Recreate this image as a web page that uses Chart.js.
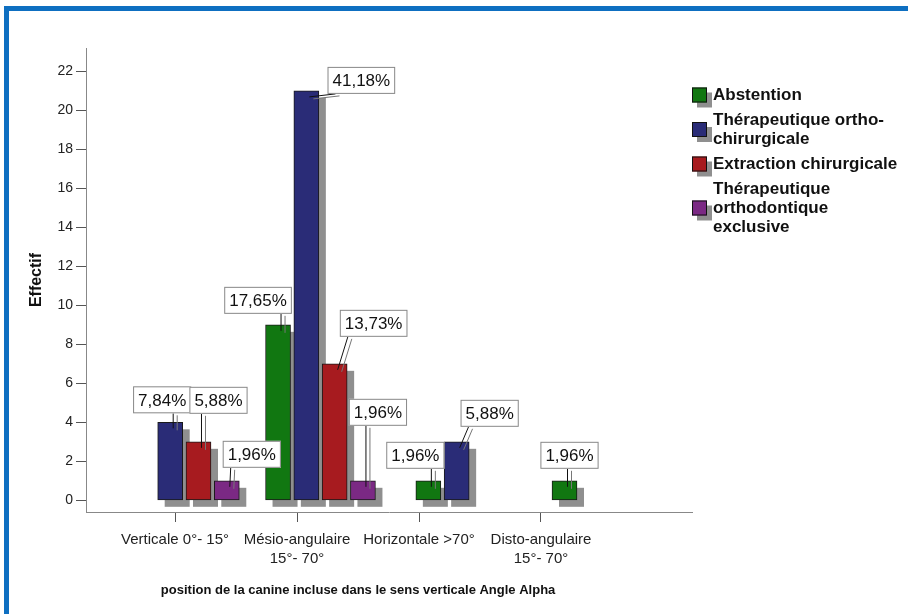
<!DOCTYPE html>
<html>
<head>
<meta charset="utf-8">
<script src="https://cdn.jsdelivr.net/npm/chart.js@4.4.1/dist/chart.umd.min.js"></script>
<style>
  html, body { margin: 0; padding: 0; background: #fff; }
  #wrap { position: relative; width: 908px; height: 614px; overflow: hidden; }
  #frame { position: absolute; left: 4px; top: 6px; width: 940px; height: 640px;
           border-left: 5px solid #0e6fc1; border-top: 5px solid #0e6fc1; pointer-events: none; }
  canvas { position: absolute; left: 0; top: 0; }
</style>
</head>
<body>
<div id="wrap">
  <canvas id="chart" width="908" height="614"></canvas>
  <div id="frame"></div>
</div>
<script>
// categories de l'axe X
var categories = ['Verticale 0°- 15°', ['Mésio-angulaire', '15°- 70°'], 'Horizontale >70°', ['Disto-angulaire', '15°- 70°']];
// noms des series (legende)
var seriesNames = ['Abstention', ['Thérapeutique ortho-', 'chirurgicale'], 'Extraction chirurgicale', ['Thérapeutique', 'orthodontique', 'exclusive']];
// effectifs
var abstention = [0, 9, 1, 1];
var orthoChirurgicale = [4, 21, 3, 0];
var extraction = [3, 7, 0, 0];
var orthodontiqueExclusive = [1, 1, 0, 0];
var yTickMax = 22;
var yTickStep = 2;

var allSeries = [abstention, orthoChirurgicale, extraction, orthodontiqueExclusive];
var colors = ['#117711', '#2a2c77', '#a71b1f', '#7b2984'];

// decalage des etiquettes (dx, ecart au-dessus de la barre)
var labelShift = [
  [null, [-20, 11], [-13, 12], [5, 12]],
  [[-8, 9], [55, -3], [33, 15], null],
  [[20, 28], [39, 27], null, null],
  [[25, 13], [15, 55], null, null]
];

var total = 0;
allSeries.forEach(function(s) { s.forEach(function(v) { total += v; }); });

var font = '"Liberation Sans", Arial, sans-serif';
Chart.defaults.font.family = font;
Chart.defaults.color = '#222';

function clamp(v, a, b) { return Math.max(a, Math.min(b, v)); }

var shadowPlugin = {
  id: 'barShadow',
  beforeDatasetsDraw: function(chart) {
    var ctx = chart.ctx;
    ctx.save();
    ctx.fillStyle = '#8f8f8f';
    chart.data.datasets.forEach(function(ds, i) {
      chart.getDatasetMeta(i).data.forEach(function(bar, j) {
        if (ds.data[j].y === null) return;
        var p = bar.getProps(['x', 'y', 'base', 'width'], true);
        ctx.fillRect(p.x - p.width / 2 + 7, p.y + 7, p.width, p.base - p.y);
      });
    });
    ctx.restore();
  }
};

function drawLabel(ctx, bar, text, shift) {
  ctx.font = '17px ' + font;
  var tw = ctx.measureText(text).width;
  var bw = tw + 10, bh = 27;
  var bx = bar.x + shift[0] - bw / 2;
  var by = bar.y - shift[1] - bh;
  var ex = bar.x + 3, ey = bar.y + 6;
  var sx, sy;
  if (ey > by + bh) {
    sx = clamp(ex, bx + 8, bx + bw - 8); sy = by + bh;
  } else {
    sx = bx; sy = clamp(ey, by + 6, by + bh - 6);
  }
  ctx.lineWidth = 1;
  ctx.strokeStyle = '#777';
  ctx.beginPath(); ctx.moveTo(sx + 4, sy + 2); ctx.lineTo(ex + 4, ey + 2); ctx.stroke();
  ctx.strokeStyle = '#111';
  ctx.beginPath(); ctx.moveTo(sx, sy); ctx.lineTo(ex, ey); ctx.stroke();
  ctx.fillStyle = '#fff';
  ctx.fillRect(bx, by, bw, bh);
  ctx.strokeStyle = '#888';
  ctx.strokeRect(bx + 0.5, by + 0.5, bw - 1, bh - 1);
  ctx.fillStyle = '#111';
  ctx.textAlign = 'center';
  ctx.textBaseline = 'middle';
  ctx.fillText(text, bx + bw / 2, by + bh / 2 + 1);
}

var decorPlugin = {
  id: 'decor',
  afterDraw: function(chart) {
    var ctx = chart.ctx;
    var area = chart.chartArea;
    ctx.save();
    // etiquettes en pourcentage
    chart.data.datasets.forEach(function(ds, i) {
      chart.getDatasetMeta(i).data.forEach(function(bar, j) {
        var v = allSeries[i][j];
        if (!v || !labelShift[i][j]) return;
        var p = bar.getProps(['x', 'y', 'base', 'width'], true);
        var txt = (v / total * 100).toFixed(2).replace('.', ',') + '%';
        drawLabel(ctx, p, txt, labelShift[i][j]);
      });
    });
    // legende
    var lx = area.right, y = area.top + 47;
    ctx.font = 'bold 17px ' + font;
    ctx.textAlign = 'left';
    ctx.textBaseline = 'middle';
    seriesNames.forEach(function(name, i) {
      var lines = Array.isArray(name) ? name : [name];
      var mid = y + (lines.length - 1) * 19 / 2;
      ctx.fillStyle = '#8f8f8f';
      ctx.fillRect(lx + 5, mid - 7.5 + 5, 15, 15);
      ctx.fillStyle = colors[i];
      ctx.fillRect(lx, mid - 7.5, 15, 15);
      ctx.strokeStyle = '#111';
      ctx.strokeRect(lx + 0.5, mid - 7.5 + 0.5, 14, 14);
      ctx.fillStyle = '#111';
      lines.forEach(function(l, k) { ctx.fillText(l, lx + 21, y + k * 19); });
      y += (lines.length - 1) * 19 + 25;
    });
    // titre de l'axe X
    ctx.font = 'bold 13px ' + font;
    ctx.textAlign = 'center';
    ctx.fillStyle = '#111';
    ctx.fillText('position de la canine incluse dans le sens verticale Angle Alpha',
      area.left + 0.449 * (area.right - area.left), 590);
    ctx.restore();
  }
};

var datasets = allSeries.map(function(s, i) {
  return {
    label: Array.isArray(seriesNames[i]) ? seriesNames[i].join(' ') : seriesNames[i],
    data: s.map(function(v, j) { return { x: j, y: v === 0 ? null : v }; }),
    backgroundColor: colors[i],
    borderColor: '#1a1a1a',
    borderWidth: 1,
    borderSkipped: false,
    xAxisID: 'xb',
    barThickness: 28.3,
    maxBarThickness: 25,
    skipNull: true
  };
});

new Chart(document.getElementById('chart').getContext('2d'), {
  type: 'bar',
  data: { datasets: datasets },
  plugins: [shadowPlugin, decorPlugin],
  options: {
    responsive: false,
    animation: false,
    layout: { padding: { left: 0, right: 216, top: 48, bottom: 0 } },
    plugins: { legend: { display: false }, tooltip: { enabled: false } },
    scales: {
      xb: { type: 'linear', display: false, offset: false, min: -0.922, max: 4.045 },
      x: {
        type: 'linear',
        position: 'bottom',
        offset: false,
        min: -0.73, max: 4.238,
        afterBuildTicks: function(s) { s.ticks = categories.map(function(c, i) { return { value: i }; }); },
        afterFit: function(s) { s.height = 102; },
        ticks: {
          callback: function(v) { return categories[v]; },
          autoSkip: false, maxRotation: 0, padding: 8,
          font: { size: 15, lineHeight: 1.27 }, color: '#222'
        },
        grid: { offset: false, drawOnChartArea: false, drawTicks: true, tickLength: 10, color: '#555' },
        border: { color: '#888' }
      },
      y: {
        min: -0.6, max: 23.2,
        afterBuildTicks: function(s) {
          var t = [];
          for (var v = 0; v <= yTickMax; v += yTickStep) t.push({ value: v });
          s.ticks = t;
        },
        afterFit: function(s) { s.width = 86; },
        ticks: { padding: 3, font: { size: 14 }, color: '#222' },
        grid: { drawOnChartArea: false, drawTicks: true, tickLength: 10, color: '#555' },
        border: { color: '#888' },
        title: { display: true, text: 'Effectif', font: { size: 16, weight: 'bold' }, color: '#111', padding: { top: 27, bottom: 0 } }
      }
    }
  }
});
</script>
</body>
</html>
